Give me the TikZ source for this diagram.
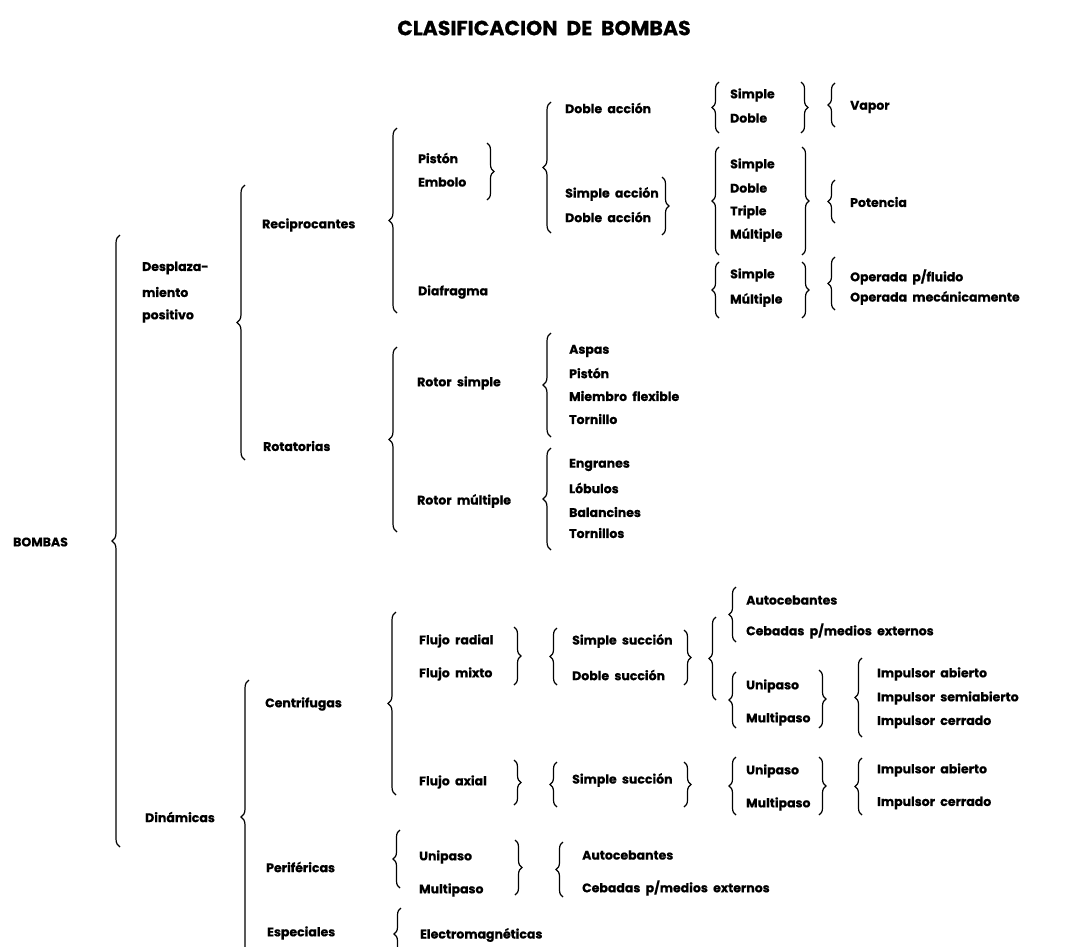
\documentclass[tikz,border=0pt]{standalone}
\usepackage{fontspec}
\setmainfont{Poppins}[BoldFeatures={FakeBold=0.6}]
\usetikzlibrary{decorations.pathreplacing}
\tikzstyle{lbl} = [anchor=west, inner sep=0pt, font=\fontsize{12.5}{14}\selectfont\bfseries]
\tikzstyle{brc} = [decorate, decoration={brace, amplitude=8pt}, line width=1.2pt]
\tikzstyle{sbrc} = [decorate, decoration={brace, amplitude=7pt}, line width=1.2pt]

\begin{document}
\begin{tikzpicture}[x=1pt, y=-1pt]
	\useasboundingbox[fill=white] (0,0) rectangle (1087,946);
	%titulo
	\node (title) at (544,28) {\fontsize{20.5}{24}\selectfont\bfseries CLASIFICACION\ \ DE\ \ BOMBAS};
	%nivel 1 y 2
	\node (bombas) [lbl] at (13,542) {BOMBAS};
	\node (desp1) [lbl] at (142,268) {Desplaza-};
	\node (desp2) [lbl] at (142,292) {miento};
	\node (desp3) [lbl] at (142,316) {positivo};
	\node (din) [lbl] at (145,817) {Dinámicas};
	\node (recip) [lbl] at (262,225) {Reciprocantes};
	\node (rotat) [lbl] at (263,446) {Rotatorias};
	\node (centr) [lbl] at (265,704) {Centrifugas};
	\node (perif) [lbl] at (266,867) {Periféricas};
	\node (espec) [lbl] at (267,933) {Especiales};
	%reciprocantes
	\node (piston) [lbl] at (418,158) {Pistón};
	\node (embolo) [lbl] at (418,182) {Embolo};
	\node (diaf) [lbl] at (418,292) {Diafragma};
	\node (dacc1) [lbl] at (565,108) {Doble\ \ acción};
	\node (sacc) [lbl] at (565,194) {Simple\ \ acción};
	\node (dacc2) [lbl] at (565,217) {Doble\ \ acción};
	\node (s1) [lbl] at (730,95) {Simple};
	\node (d1) [lbl] at (730,118) {Doble};
	\node (vapor) [lbl] at (850,107) {Vapor};
	\node (s2) [lbl] at (730,165) {Simple};
	\node (d2) [lbl] at (730,188) {Doble};
	\node (t2) [lbl] at (730,212) {Triple};
	\node (m2) [lbl] at (730,235) {Múltiple};
	\node (pot) [lbl] at (850,202) {Potencia};
	\node (s3) [lbl] at (730,275) {Simple};
	\node (m3) [lbl] at (730,300) {Múltiple};
	\node (opf) [lbl] at (850,277) {Operada\ \ p/fluido};
	\node (opm) [lbl] at (850,298) {Operada\ \ mecánicamente};
	%rotatorias
	\node (rsim) [lbl] at (417,383) {Rotor\ \ simple};
	\node (rmul) [lbl] at (417,501) {Rotor\ \ múltiple};
	\node (aspas) [lbl] at (569,351) {Aspas};
	\node (pist2) [lbl] at (569,373) {Pistón};
	\node (miem) [lbl] at (569,396) {Miembro\ \ flexible};
	\node (torn) [lbl] at (569,419) {Tornillo};
	\node (engr) [lbl] at (569,465) {Engranes};
	\node (lob) [lbl] at (569,488) {Lóbulos};
	\node (bal) [lbl] at (569,512) {Balancines};
	\node (torns) [lbl] at (569,533) {Tornillos};
	%centrifugas
	\node (frad) [lbl] at (419,641) {Flujo\ \ radial};
	\node (fmix) [lbl] at (419,674) {Flujo\ \ mixto};
	\node (fax) [lbl] at (419,782) {Flujo\ \ axial};
	\node (ssuc1) [lbl] at (572,641) {Simple\ \ succión};
	\node (dsuc) [lbl] at (572,675) {Doble\ \ succión};
	\node (ssuc2) [lbl] at (572,780) {Simple\ \ succión};
	\node (autoc1) [lbl] at (746,600) {Autocebantes};
	\node (ceb1) [lbl] at (746,631) {Cebadas\ \ p/medios\ \ externos};
	\node (uni1) [lbl] at (746,686) {Unipaso};
	\node (mul1) [lbl] at (746,719) {Multipaso};
	\node (ia1) [lbl] at (877,674) {Impulsor\ \ abierto};
	\node (isa) [lbl] at (877,698) {Impulsor\ \ semiabierto};
	\node (ic1) [lbl] at (877,722) {Impulsor\ \ cerrado};
	\node (uni2) [lbl] at (746,771) {Unipaso};
	\node (mul2) [lbl] at (746,804) {Multipaso};
	\node (ia2) [lbl] at (877,770) {Impulsor\ \ abierto};
	\node (ic2) [lbl] at (877,803) {Impulsor\ \ cerrado};
	%perifericas y especiales
	\node (uni3) [lbl] at (419,857) {Unipaso};
	\node (mul3) [lbl] at (419,890) {Multipaso};
	\node (autoc2) [lbl] at (582,855) {Autocebantes};
	\node (ceb2) [lbl] at (582,888) {Cebadas\ \ p/medios\ \ externos};
	\node (elec) [lbl] at (420,935) {Electromagnéticas};
	%llaves
	\draw [brc] (120,847) -- (120,235);
	\draw [brc] (245,460) -- (245,185);
	\draw [brc] (249,954) -- (249,680);
	\draw [brc] (397,313) -- (397,128);
	\draw [sbrc] (487,143) -- (487,200);
	\draw [brc] (551,233) -- (551,102);
	\draw [sbrc] (662,177) -- (662,235);
	\draw [sbrc] (719,133) -- (719,82);
	\draw [sbrc] (801,82) -- (801,133);
	\draw [sbrc] (835,127) -- (835,83);
	\draw [sbrc] (719,255) -- (719,147);
	\draw [sbrc] (802,147) -- (802,255);
	\draw [sbrc] (835,223) -- (835,180);
	\draw [sbrc] (719,318) -- (719,262);
	\draw [sbrc] (802,262) -- (802,318);
	\draw [sbrc] (835,310) -- (835,257);
	\draw [brc] (397,532) -- (397,347);
	\draw [brc] (551,437) -- (551,333);
	\draw [brc] (551,550) -- (551,448);
	\draw [brc] (396,795) -- (396,612);
	\draw [sbrc] (514,627) -- (514,685);
	\draw [sbrc] (514,760) -- (514,805);
	\draw [sbrc] (557,685) -- (557,628);
	\draw [sbrc] (684,630) -- (684,685);
	\draw [sbrc] (716,700) -- (716,617);
	\draw [sbrc] (736,642) -- (736,587);
	\draw [sbrc] (736,728) -- (736,672);
	\draw [sbrc] (819,670) -- (819,728);
	\draw [sbrc] (862,737) -- (862,658);
	\draw [sbrc] (557,807) -- (557,762);
	\draw [sbrc] (684,762) -- (684,807);
	\draw [sbrc] (736,815) -- (736,757);
	\draw [sbrc] (819,757) -- (819,815);
	\draw [sbrc] (862,815) -- (862,758);
	\draw [sbrc] (400,888) -- (400,830);
	\draw [sbrc] (515,840) -- (515,895);
	\draw [sbrc] (563,897) -- (563,842);
	\draw [sbrc] (401,960) -- (401,908);
\end{tikzpicture}
\end{document}
